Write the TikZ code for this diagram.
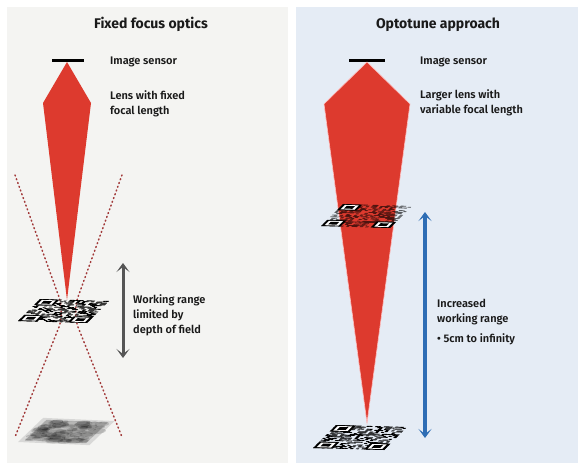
\documentclass[tikz,border=0pt]{standalone}
\usepackage{fontspec}
\setmainfont{Fira Sans}
\newfontfamily\medfont{Fira Sans SemiBold}
\usetikzlibrary{arrows.meta}
\definecolor{panelgray}{HTML}{F4F4F2}
\definecolor{panelblue}{HTML}{E5ECF5}
\definecolor{beamred}{HTML}{DD3A2E}
\definecolor{dotred}{HTML}{A23A3A}
\definecolor{rangegray}{HTML}{555555}
\definecolor{rangeblue}{HTML}{2E6DB4}
\definecolor{txt}{HTML}{1A1A1A}
% one QR square in the (tilted) plane: random modules + finder marks
\newcommand{\qrcells}[2]{%
  \pgfmathsetseed{#1}%
  \foreach \i in {0,...,24}{
    \foreach \j in {0,...,24}{
      \pgfmathrandominteger{\bit}{0}{1}
      \ifnum\bit=1 \fill[#2] (\i,\j) -- ++(1,0) -- ++(0,1) -- ++(-1,0) -- cycle; \fi
    }}}
\newcommand{\qrfinder}[2]{%
  \fill[black] (#1,#2) -- ++(7,0) -- ++(0,7) -- ++(-7,0) -- cycle;
  \fill[white] (#1+1,#2+1) -- ++(5,0) -- ++(0,5) -- ++(-5,0) -- cycle;
  \fill[black] (#1+2,#2+2) -- ++(3,0) -- ++(0,3) -- ++(-3,0) -- cycle;}
\tikzset{
  beam/.style      ={fill=beamred},
  sensorbar/.style ={line width=3pt, black},
  focusline/.style ={dotred, line width=1.5pt, line cap=round, dash pattern=on 1pt off 3pt},
  qrplane/.style   ={x={(2.76pt,-0.08pt)}, y={(0.88pt,0.88pt)}},
  rangearrow/.style={{Stealth[length=9pt,width=13pt,inset=5pt]}-{Stealth[length=9pt,width=13pt,inset=5pt]}},
  ttl/.style       ={font=\bfseries\fontsize{14}{17}\selectfont, text=txt, inner sep=0pt, anchor=base},
  lbl/.style       ={font=\medfont\fontsize{11}{15}\selectfont, text=txt, inner sep=0pt, anchor=base west, align=left},
}

\begin{document}
\begin{tikzpicture}[x=1pt, y=-1pt]
  \useasboundingbox (0,0) rectangle (583,470);
  \fill[white] (0,0) rectangle (583,470);

  % LEFT: fixed focus
  \fill[panelgray] (7,7) rectangle (288,463);
  \node[ttl] (ltitle) at (151,29) {Fixed focus optics};
  \draw[sensorbar] (52,61) -- (84,61);
  \fill[beam] (67,62) -- (43,103) -- (67,300) -- (91,103) -- cycle;
  \draw[focusline] (15,175) -- (59,297) .. controls (62,305) and (62,319) .. (59,327) -- (15,437);
  \draw[focusline] (122,175) -- (78,297) .. controls (75,305) and (75,319) .. (78,327) -- (122,437);
  \begin{scope}[shift={(18,321)}, qrplane]
    \qrcells{11}{black}
    \qrfinder{0}{0} \qrfinder{18}{0} \qrfinder{0}{18}
  \end{scope}
  % blurred code out of focus
  \begin{scope}[shift={(18,442)}, x={(3.4pt,-0.15pt)}, y={(1.2pt,1.15pt)}]
    \fill[black!40, opacity=0.3] (0,0) -- (21,0) -- (21,21) -- (0,21) -- cycle;
    \fill[black!55, opacity=0.45] (1.5,1.5) -- (19.5,1.5) -- (19.5,19.5) -- (1.5,19.5) -- cycle;
    \pgfmathsetseed{7}
    \foreach \k in {1,...,70}{
      \pgfmathsetmacro{\bx}{2+17*rnd}
      \pgfmathsetmacro{\by}{2+17*rnd}
      \pgfmathsetmacro{\br}{1+1.6*rnd}
      \fill[black, opacity=0.16] (\bx,\by) circle[radius=\br];
    }
    \foreach \k in {1,...,25}{
      \pgfmathsetmacro{\bx}{2+17*rnd}
      \pgfmathsetmacro{\by}{2+17*rnd}
      \fill[white, opacity=0.15] (\bx,\by) circle[radius=1.4];
    }
  \end{scope}
  \coordinate (lrtop) at (123,263);
  \coordinate (lrbot) at (123,358);
  \draw[rangearrow, rangegray, line width=3pt] (lrtop) -- (lrbot);
  \node[lbl] (lrange) at (133,333) {Working range\\limited by\\depth of field};
  \node[lbl] (lsensor) at (110,65) {Image sensor};
  \node[lbl] (llens) at (110,115) {Lens with fixed\\focal length};

  % RIGHT: Optotune
  \fill[panelblue] (296,7) rectangle (578,463);
  \node[ttl] (rtitle) at (438,29) {Optotune approach};
  \draw[sensorbar] (349,61) -- (385,61);
  \fill[beam, draw=red!25, line width=0.6pt] (367,62) -- (324,104) -- (367,423) -- (410,104) -- cycle;
  \begin{scope}[shift={(321,226)}, qrplane]
    \qrcells{23}{black, opacity=0.6}
    \qrfinder{0}{0} \qrfinder{18}{0} \qrfinder{0}{18}
  \end{scope}
  \begin{scope}[shift={(313,448)}, x={(2.84pt,-0.08pt)}, y={(0.92pt,0.92pt)}]
    \qrcells{5}{black}
    \qrfinder{0}{0} \qrfinder{18}{0} \qrfinder{0}{18}
  \end{scope}
  \coordinate (rrtop) at (425,212);
  \coordinate (rrbot) at (425,438);
  \draw[rangearrow, rangeblue, line width=4pt] (rrtop) -- (rrbot);
  \node[lbl] (rrange) at (437,322) {Increased\\working range};
  \node[lbl] (rinf) at (437,342) {\textbullet\ 5cm to infinity};
  \node[lbl] (rsensor) at (420,65) {Image sensor};
  \node[lbl] (rlens) at (420,114) {Larger lens with\\variable focal length};
\end{tikzpicture}
\end{document}
